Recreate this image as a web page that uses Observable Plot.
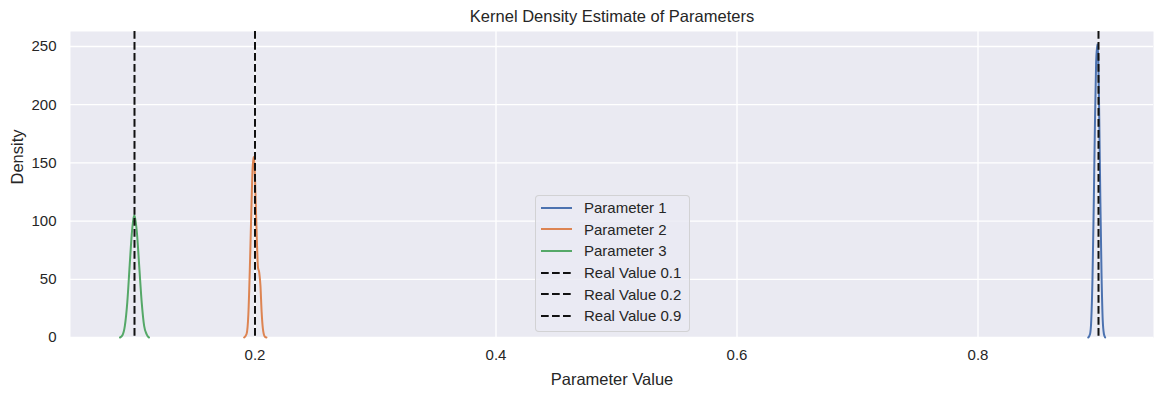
<!DOCTYPE html>
<html>
<head>
<meta charset="utf-8">
<script src="https://cdn.jsdelivr.net/npm/d3@7"></script>
<script src="https://cdn.jsdelivr.net/npm/@observablehq/plot@0.6"></script>
<style>
  html, body { margin: 0; padding: 0; background: #fff; }
  #wrap { position: relative; width: 1164px; height: 396px; font-family: "Liberation Sans", Arial, sans-serif; color: #262626; }
  #legend { position: absolute; left: 535px; top: 195px; width: 155px; box-sizing: border-box;
    background: rgba(234,234,242,0.8); border: 1px solid rgba(204,204,204,0.8); border-radius: 4px; padding: 1px 0 4px 0; }
  .row { display: flex; align-items: center; height: 21.6px; font-size: 15px; }
  .row svg { margin-left: 5px; margin-right: 12px; }
</style>
</head>
<body>
<div id="wrap"><div id="chart"></div><div id="legend"></div></div>
<script>
// Series names and colours
const seriesNames = ["Parameter 1", "Parameter 2", "Parameter 3"];
const seriesColors = ["#4C72B0", "#DD8452", "#55A868"];

// Parameter 1 KDE (blue)
const p1X = [0.8915, 0.8930, 0.8940, 0.8950, 0.8960, 0.8970, 0.8980, 0.8990, 0.8998, 0.9006, 0.9015, 0.9025, 0.9035, 0.9045, 0.9055];
const p1Y = [0, 3, 15, 50, 110, 180, 235, 252, 240, 190, 120, 55, 15, 3, 0];

// Parameter 2 KDE (orange)
const p2X = [0.1910, 0.1930, 0.1945, 0.1960, 0.1970, 0.1980, 0.1988, 0.1995, 0.2005, 0.2015, 0.2025, 0.2035, 0.2045, 0.2055, 0.2065, 0.2080, 0.2095];
const p2Y = [0, 3, 20, 70, 110, 145, 155, 150, 120, 85, 60, 56, 45, 22, 8, 1, 0];

// Parameter 3 KDE (green)
const p3X = [0.0880, 0.0900, 0.0920, 0.0940, 0.0960, 0.0980, 0.0995, 0.1000, 0.1020, 0.1040, 0.1060, 0.1080, 0.1100, 0.1120];
const p3Y = [0, 2, 10, 30, 62, 92, 104, 105, 90, 60, 30, 10, 3, 0];

// Real values (dashed lines)
const realValues = [0.1, 0.2, 0.9];
const realLabels = ["Real Value 0.1", "Real Value 0.2", "Real Value 0.9"];

// Ticks
const xTicks = [0.2, 0.4, 0.6, 0.8];
const yTicks = [0, 50, 100, 150, 200, 250];

const title = "Kernel Density Estimate of Parameters";
const xLabel = "Parameter Value";
const yLabel = "Density";

const seriesX = [p1X, p2X, p3X];
const seriesY = [p1Y, p2Y, p3Y];
const kde = [];
seriesNames.forEach((name, i) => {
  seriesX[i].forEach((x, j) => kde.push({series: name, x, y: seriesY[i][j]}));
});

const dash = "7.7,3.3";

const chart = Plot.plot({
  width: 1164,
  height: 396,
  marginLeft: 70,
  marginRight: 11,
  marginTop: 31,
  marginBottom: 59,
  style: {fontFamily: '"Liberation Sans", Arial, sans-serif', color: "#262626", background: "#fff"},
  x: {domain: [0.04689, 0.94564]},
  y: {domain: [0, 262.9]},
  color: {domain: seriesNames, range: seriesColors},
  marks: [
    Plot.frame({fill: "#EAEAF2", stroke: null}),
    Plot.gridX(xTicks, {stroke: "#fff", strokeOpacity: 1, strokeWidth: 1.3}),
    Plot.gridY(yTicks, {stroke: "#fff", strokeOpacity: 1, strokeWidth: 1.3}),
    Plot.axisX(xTicks, {tickSize: 0, tickPadding: 11.5, fontSize: 15, label: null, tickFormat: d => String(d)}),
    Plot.axisY(yTicks, {tickSize: 0, tickPadding: 14, fontSize: 15, label: null}),
    Plot.line(kde, {x: "x", y: "y", z: "series", stroke: "series", strokeWidth: 2, curve: "monotone-x"}),
    Plot.ruleX(realValues, {stroke: "#111", strokeWidth: 2, strokeDasharray: dash}),
    Plot.text([title], {frameAnchor: "top", lineAnchor: "middle", dy: -15, fontSize: 16.5, fill: "#262626"}),
    Plot.text([xLabel], {frameAnchor: "bottom", lineAnchor: "middle", dy: 42, fontSize: 16.5, fill: "#262626"}),
    Plot.text([yLabel], {frameAnchor: "left", dx: -53, rotate: -90, fontSize: 16.5, fill: "#262626"})
  ]
});
document.getElementById("chart").appendChild(chart);

// Legend built from the arrays
const legend = document.getElementById("legend");
const entries = seriesNames.map((n, i) => ({label: n, color: seriesColors[i], dash: null}))
  .concat(realLabels.map(l => ({label: l, color: "#111", dash})));
entries.forEach(e => {
  const row = document.createElement("div");
  row.className = "row";
  row.innerHTML = `<svg width="31" height="6"><line x1="0" y1="3" x2="31" y2="3" stroke="${e.color}" stroke-width="2" ${e.dash ? `stroke-dasharray="${e.dash}"` : ""}/></svg><span>${e.label}</span>`;
  legend.appendChild(row);
});
</script>
</body>
</html>
